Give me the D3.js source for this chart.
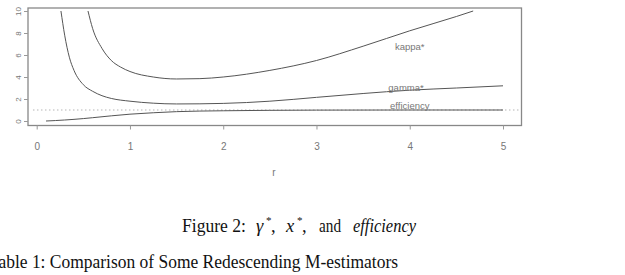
<!DOCTYPE html>
<html>
<head>
<meta charset="utf-8">
<script src="https://cdn.jsdelivr.net/npm/d3@7"></script>
<style>
  body { margin: 0; background: #fff; }
  svg { display: block; }
  .axis-text { font-family: "Liberation Sans Narrow", "Liberation Sans", Arial, sans-serif; font-size: 10px; fill: #777; }
  .curve { fill: none; stroke: #555; stroke-width: 1; }
  .curve-label { font-family: "Liberation Sans", Arial, sans-serif; font-size: 9.5px; fill: #777; }
  .caption { font-family: "Liberation Serif", "DejaVu Serif", serif; fill: #111; }
</style>
</head>
<body>
<div id="chart"></div>
<script>
// --- data ---
const xTicks = [0, 1, 2, 3, 4, 5];
const yTicks = [0, 2, 4, 6, 8, 10];

const kappaR = [0.55, 0.6, 0.7, 0.8, 0.9, 1.0, 1.25, 1.5, 1.75, 2.0, 2.5, 3.0, 3.5, 4.0, 4.5, 4.68];
const kappaV = [10, 8.4, 6.6, 5.5, 4.9, 4.5, 4.0, 3.82, 3.85, 4.0, 4.6, 5.5, 6.8, 8.2, 9.5, 10];

const gammaR = [0.26, 0.3, 0.35, 0.4, 0.5, 0.6, 0.7, 0.8, 1.0, 1.25, 1.5, 2.0, 2.5, 3.0, 3.5, 4.0, 4.5, 5.0];
const gammaV = [10, 7.8, 5.8, 4.6, 3.3, 2.7, 2.3, 2.05, 1.8, 1.62, 1.55, 1.6, 1.8, 2.15, 2.5, 2.8, 3.0, 3.2];

const effR = [0.1, 0.2, 0.3, 0.4, 0.5, 0.6, 0.8, 1.0, 1.25, 1.5, 2.0, 2.5, 3.0, 4.0, 5.0];
const effV = [0, 0.04, 0.09, 0.15, 0.22, 0.3, 0.47, 0.62, 0.75, 0.85, 0.93, 0.97, 0.99, 1.0, 1.0];

const curveLabels = ["kappa*", "gamma*", "efficiency"];

// --- setup ---
const W = 625, H = 275;
const svg = d3.select("#chart").append("svg").attr("width", W).attr("height", H);

const x = d3.scaleLinear().domain([0, 5]).range([36.7, 503]);
const y = d3.scaleLinear().domain([0, 10]).range([121, 11]);
const box = { left: 28, right: 521.5, top: 8, bottom: 125.5 };

svg.append("clipPath").attr("id", "plot-clip")
  .append("rect")
  .attr("x", box.left).attr("y", box.top)
  .attr("width", box.right - box.left).attr("height", box.bottom - box.top);

// stippellijn op efficiency = 1
svg.append("line")
  .attr("x1", x(-0.04)).attr("x2", box.right - 2)
  .attr("y1", y(1)).attr("y2", y(1))
  .attr("stroke", "#b5b5b5").attr("stroke-width", 1)
  .attr("stroke-dasharray", "1.5 2.5");

// curves
const line = d3.line().x(d => x(d[0])).y(d => y(d[1])).curve(d3.curveMonotoneX);
const series = [
  [kappaR, kappaV],
  [gammaR, gammaV],
  [effR, effV]
];
series.forEach(([rs, vs]) => {
  svg.append("path")
    .datum(rs.map((r, i) => [r, vs[i]]))
    .attr("class", "curve")
    .attr("clip-path", "url(#plot-clip)")
    .attr("d", line);
});

// labels next to curves
const labelPos = [[4.0, 6.45], [3.96, 2.75], [4.0, 1.05]];
curveLabels.forEach((t, i) => {
  svg.append("text")
    .attr("class", "curve-label")
    .attr("x", x(labelPos[i][0])).attr("y", y(labelPos[i][1]))
    .attr("text-anchor", "middle")
    .text(t);
});

// frame
svg.append("rect")
  .attr("x", box.left).attr("y", box.top)
  .attr("width", box.right - box.left).attr("height", box.bottom - box.top)
  .attr("fill", "none").attr("stroke", "#888").attr("stroke-width", 1.3);

// x axis
const xAxis = svg.append("g").attr("transform", `translate(0,${box.bottom})`)
  .call(d3.axisBottom(x).tickValues(xTicks).tickSize(4).tickPadding(13).tickFormat(d3.format("d")));
xAxis.select(".domain").remove();
xAxis.selectAll("line").attr("stroke", "#999");
xAxis.selectAll("text").attr("class", "axis-text").attr("fill", null);

// y axis with rotated labels
const yAxis = svg.append("g").attr("transform", `translate(${box.left},0)`)
  .call(d3.axisLeft(y).tickValues(yTicks).tickSize(4).tickFormat(d3.format("d")));
yAxis.select(".domain").remove();
yAxis.selectAll("line").attr("stroke", "#999");
yAxis.selectAll("text")
  .attr("class", "axis-text").attr("fill", null)
  .style("font-size", "8px")
  .attr("x", null).attr("dy", null)
  .attr("text-anchor", "middle")
  .attr("transform", "translate(-7,0) rotate(-90)")
  .attr("y", 0);

// x axis title
svg.append("text").attr("class", "axis-text")
  .attr("x", 274).attr("y", 176).attr("text-anchor", "middle").text("r");

// --- captions ---
// stukjes los geplaatst zodat de ruime spatiëring van het origineel klopt
const capParts = [
  { t: "Figure 2:", x: 182, len: 64 },
  { t: "γ", x: 256, it: true },
  { t: "*", x: 266, sup: true },
  { t: ",", x: 271 },
  { t: "x", x: 286, it: true },
  { t: "*", x: 297, sup: true },
  { t: ",", x: 302 },
  { t: "and", x: 319, len: 22 },
  { t: "efficiency", x: 353, len: 63, it: true }
];
const cap = svg.append("g").attr("class", "caption");
capParts.forEach(p => {
  const t = cap.append("text")
    .attr("x", p.x)
    .attr("y", p.sup ? 224 : 231.5)
    .attr("font-size", p.sup ? 11 : 18.5)
    .attr("font-style", p.it ? "italic" : null)
    .text(p.t);
  if (p.len) t.attr("textLength", p.len).attr("lengthAdjust", "spacingAndGlyphs");
});

svg.append("text").attr("class", "caption")
  .attr("x", -11).attr("y", 268).attr("font-size", 19)
  .attr("textLength", 409).attr("lengthAdjust", "spacingAndGlyphs")
  .text("Table 1: Comparison of Some Redescending M-estimators");
</script>
</body>
</html>
